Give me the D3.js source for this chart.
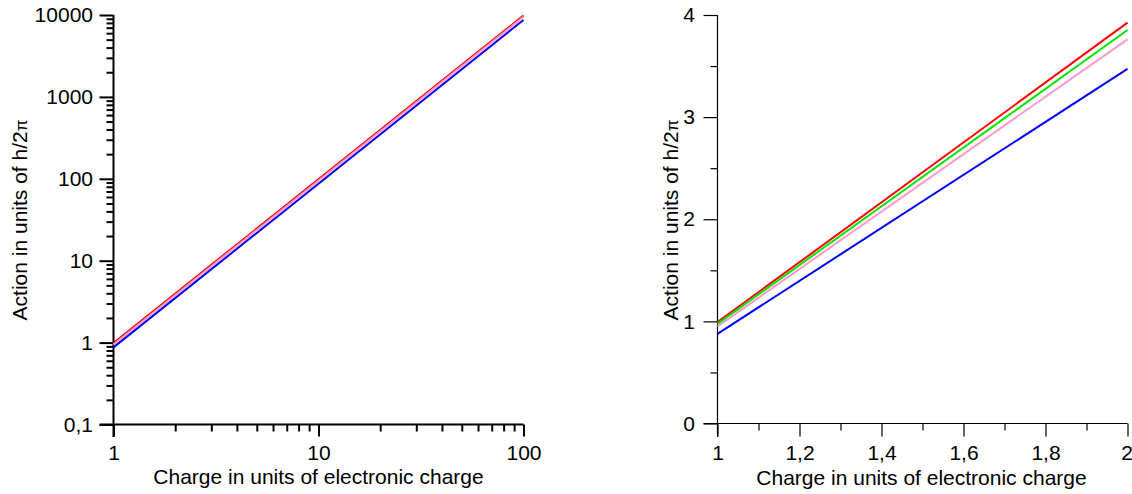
<!DOCTYPE html>
<html>
<head>
<meta charset="utf-8">
<script src="https://cdn.jsdelivr.net/npm/d3@7"></script>
<style>
  html, body { margin: 0; padding: 0; background: #fff; }
  svg { display: block; font-family: "Liberation Sans", Arial, sans-serif; }
</style>
</head>
<body>
<svg id="chart" width="1132" height="494"></svg>
<script>
// ---------- DATA ----------
const seriesNames = ["red", "green", "pink", "blue"];
const seriesColors = {red: "#ff0000", green: "#00e600", pink: "#ff99cc", blue: "#0000ff"};

// Left panel (log-log): charge 1..100
const leftX = [1, 100];
const leftRed   = [0.99, 9850];
const leftGreen = [0.975, 9700];
const leftPink  = [0.95, 9500];
const leftBlue  = [0.875, 8700];

// Right panel (linear): charge 1..2
const rightX = [1, 2];
const rightRed   = [0.993, 3.925];
const rightGreen = [0.976, 3.853];
const rightPink  = [0.95, 3.762];
const rightBlue  = [0.878, 3.472];

const leftYMajor = [0.1, 1, 10, 100, 1000, 10000];
const leftXMajor = [1, 10, 100];
const rightYMajor = [0, 1, 2, 3, 4];
const rightYMinor = [0.5, 1.5, 2.5, 3.5];
const rightXMajor = [1, 1.2, 1.4, 1.6, 1.8, 2];
const rightXMinor = [1.1, 1.3, 1.5, 1.7, 1.9];

const xTitle = "Charge in units of electronic charge";
const yTitleMain = "Action in units of h/2";
const yTitlePi = "\u03c0";

// ---------- DRAW ----------
const svg = d3.select("#chart");
const comma = v => String(v).replace(".", ",");
const FS = 21;

function minorLog(lo, hi) {
  const out = [];
  for (let d = lo; d < hi; d *= 10) for (let k = 2; k <= 9; k++) out.push(d * k);
  return out;
}

function yTitle(x, y) {
  const t = svg.append("text")
    .attr("transform", `translate(${x},${y}) rotate(-90)`)
    .attr("text-anchor", "middle")
    .attr("font-size", FS)
    .attr("fill", "#000");
  t.append("tspan").text(yTitleMain);
  t.append("tspan").attr("font-size", 17).text(yTitlePi);
}

function styleAxis(g, sw) {
  g.select(".domain").attr("stroke", "#000").attr("stroke-width", sw);
  g.selectAll(".tick line").attr("stroke", "#000").attr("stroke-width", sw);
  g.selectAll(".tick text").attr("font-size", FS).attr("fill", "#000")
    .attr("font-family", "'Liberation Sans', Arial, sans-serif");
}

// ---- Left panel ----
{
  const x = d3.scaleLog().domain([1, 100]).range([113.5, 523.5]);
  const y = d3.scaleLog().domain([0.1, 10000]).range([424.5, 15]);

  const gyMin = svg.append("g").attr("transform", `translate(113.5,0)`)
    .call(d3.axisLeft(y).tickValues(minorLog(0.1, 10000)).tickSize(7).tickFormat(""));
  styleAxis(gyMin, 2);
  gyMin.select(".domain").remove();
  const gxMin = svg.append("g").attr("transform", `translate(0,424.5)`)
    .call(d3.axisBottom(x).tickValues(minorLog(1, 100)).tickSize(7).tickFormat(""));
  styleAxis(gxMin, 2);
  gxMin.select(".domain").remove();

  const gy = svg.append("g").attr("transform", `translate(113.5,0)`)
    .call(d3.axisLeft(y).tickValues(leftYMajor).tickSize(14).tickSizeOuter(0).tickPadding(6.5).tickFormat(comma));
  styleAxis(gy, 2);
  gy.select(".domain").attr("d", "M0,15V437");
  const gx = svg.append("g").attr("transform", `translate(0,424.5)`)
    .call(d3.axisBottom(x).tickValues(leftXMajor).tickSize(12).tickSizeOuter(0).tickPadding(9).tickFormat(comma));
  styleAxis(gx, 2);
  gx.select(".domain").attr("d", "M99.5,0H523.5");

  const line = d3.line().x((d, i) => x(leftX[i])).y(d => y(d));
  const data = [["green", leftGreen], ["red", leftRed], ["pink", leftPink], ["blue", leftBlue]];
  data.forEach(([name, s]) => {
    svg.append("path").datum(s).attr("d", line)
      .attr("fill", "none").attr("stroke", seriesColors[name]).attr("stroke-width", 2);
  });

  svg.append("text").attr("x", 318.5).attr("y", 484).attr("text-anchor", "middle")
    .attr("font-size", FS).attr("fill", "#000").text(xTitle);
  yTitle(27, 220);
}

// ---- Right panel ----
{
  const x = d3.scaleLinear().domain([1, 2]).range([717.5, 1127.5]);
  const y = d3.scaleLinear().domain([0, 4]).range([423.5, 15]);

  const gyMin = svg.append("g").attr("transform", `translate(717.5,0)`)
    .call(d3.axisLeft(y).tickValues(rightYMinor).tickSize(7).tickFormat(""));
  styleAxis(gyMin, 1.2);
  gyMin.select(".domain").remove();
  const gxMin = svg.append("g").attr("transform", `translate(0,423.5)`)
    .call(d3.axisBottom(x).tickValues(rightXMinor).tickSize(7).tickFormat(""));
  styleAxis(gxMin, 1.2);
  gxMin.select(".domain").remove();

  const gy = svg.append("g").attr("transform", `translate(717.5,0)`)
    .call(d3.axisLeft(y).tickValues(rightYMajor).tickSize(14).tickSizeOuter(0).tickPadding(8.5).tickFormat(comma));
  styleAxis(gy, 1.2);
  gy.select(".domain").attr("d", "M0,15V437");
  const gx = svg.append("g").attr("transform", `translate(0,423.5)`)
    .call(d3.axisBottom(x).tickValues(rightXMajor).tickSize(13).tickSizeOuter(0).tickPadding(9).tickFormat(comma));
  styleAxis(gx, 1.2);
  gx.select(".domain").attr("d", "M703.5,0H1127.5");
  // keep the last label inside the window
  gx.selectAll(".tick text").filter(d => d === 2).attr("text-anchor", "end").attr("x", 5);

  const line = d3.line().x((d, i) => x(rightX[i])).y(d => y(d));
  const data = [["red", rightRed], ["green", rightGreen], ["pink", rightPink], ["blue", rightBlue]];
  data.forEach(([name, s]) => {
    svg.append("path").datum(s).attr("d", line)
      .attr("fill", "none").attr("stroke", seriesColors[name]).attr("stroke-width", 2);
  });

  svg.append("text").attr("x", 921.5).attr("y", 485).attr("text-anchor", "middle")
    .attr("font-size", FS).attr("fill", "#000").text(xTitle);
  yTitle(677.5, 220);
}
</script>
</body>
</html>
